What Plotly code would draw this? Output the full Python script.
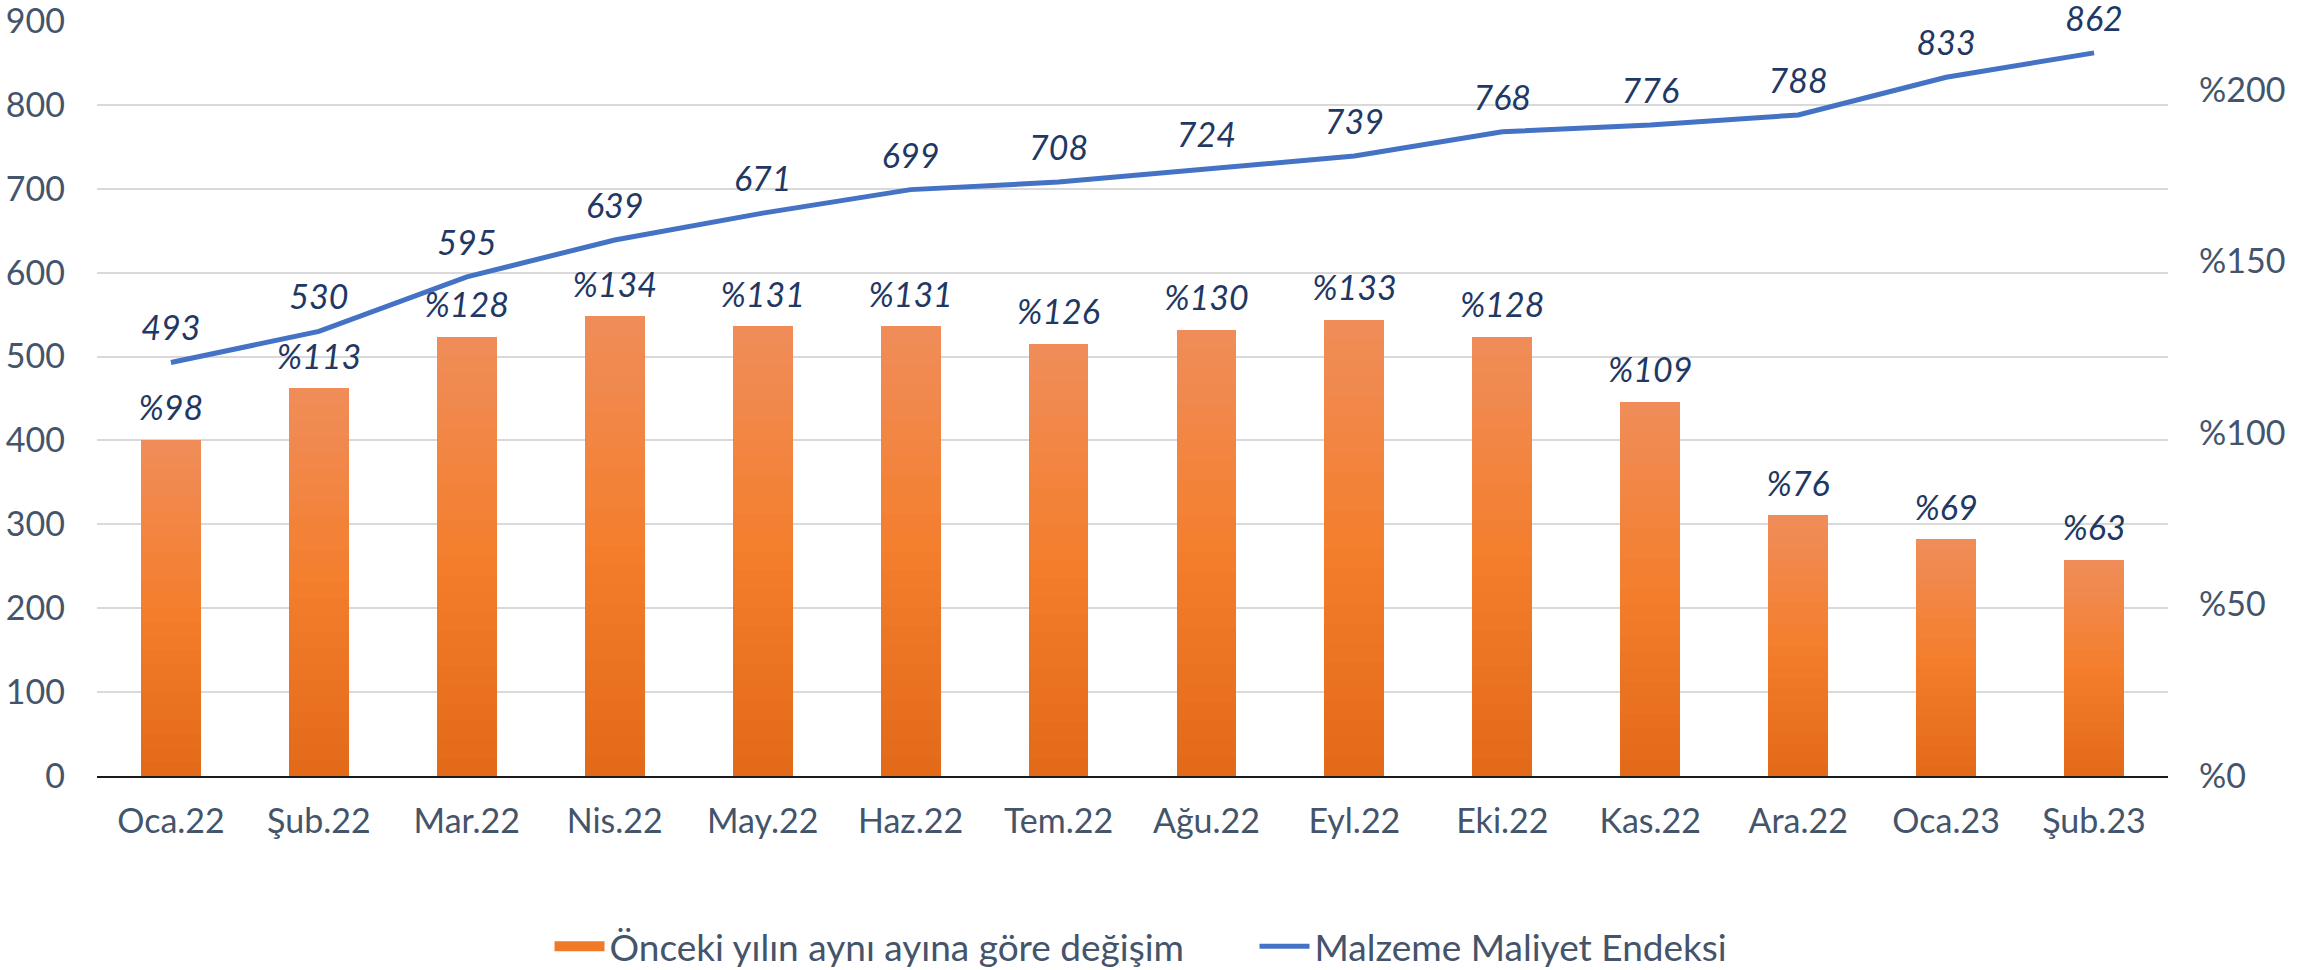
import plotly.graph_objects as go

categories = ["Oca.22", "Şub.22", "Mar.22", "Nis.22", "May.22", "Haz.22", "Tem.22",
              "Ağu.22", "Eyl.22", "Eki.22", "Kas.22", "Ara.22", "Oca.23", "Şub.23"]
index_values = [493, 530, 595, 639, 671, 699, 708, 724, 739, 768, 776, 788, 833, 862]
yoy_change = [98, 113, 128, 134, 131, 131, 126, 130, 133, 128, 109, 76, 69, 63]
right_ticks = [0, 50, 100, 150, 200]

bar_name = "Önceki yılın aynı ayına göre değişim"
line_name = "Malzeme Maliyet Endeksi"

FONT = "Lato"
TICK_COLOR = "#44546A"
LABEL_COLOR = "#1F3864"

# gradient stops bottom -> top
stops = [(0.0, (226, 105, 24)), (0.5, (244, 126, 44)), (1.0, (239, 141, 90))]


def grad(t):
    for (t0, c0), (t1, c1) in zip(stops[:-1], stops[1:]):
        if t0 <= t <= t1:
            f = (t - t0) / (t1 - t0)
            return "rgb(%d,%d,%d)" % tuple(round(a + (b - a) * f) for a, b in zip(c0, c1))
    return "rgb(%d,%d,%d)" % stops[-1][1]


N = 24
fig = go.Figure()
# legend entry for the bars (wide rectangle symbol like the reference)
fig.add_trace(go.Scatter(
    x=[None], y=[None], mode="lines", name=bar_name, legendgroup="bar",
    line=dict(color=grad(0.4), width=20), hoverinfo="skip",
))
for i in range(N):
    fig.add_trace(go.Bar(
        x=categories, y=[v / N for v in yoy_change], yaxis="y2",
        marker=dict(color=grad((i + 0.5) / N), line=dict(width=0)),
        name=bar_name, legendgroup="bar", showlegend=False,
        hoverinfo="skip",
    ))

# bar labels
fig.add_trace(go.Scatter(
    x=categories, y=yoy_change, yaxis="y2", mode="markers+text",
    text=["%" + str(v) for v in yoy_change], textposition="top center",
    marker=dict(size=16, opacity=0), showlegend=False, hoverinfo="skip",
    cliponaxis=False,
    textfont=dict(family=FONT, size=34, color=LABEL_COLOR, style="italic"),
))

fig.add_trace(go.Scatter(
    x=categories, y=index_values, yaxis="y", mode="lines",
    line=dict(color="#4472C4", width=5), name=line_name,
))
fig.add_trace(go.Scatter(
    x=categories, y=index_values, yaxis="y", mode="markers+text",
    text=[str(v) for v in index_values], textposition="top center",
    marker=dict(size=20, opacity=0), showlegend=False, hoverinfo="skip",
    cliponaxis=False,
    textfont=dict(family=FONT, size=34, color=LABEL_COLOR, style="italic"),
))

fig.update_layout(
    width=2310, height=970,
    paper_bgcolor="white", plot_bgcolor="white",
    margin=dict(l=97, r=142, t=21, b=194, autoexpand=False),
    barmode="stack", bargap=0.595,
    font=dict(family=FONT, size=34, color=TICK_COLOR),
    showlegend=True,
    legend=dict(orientation="h", x=0.2185, xanchor="left", y=-0.226, yanchor="middle",
                font=dict(family=FONT, size=37, color=TICK_COLOR), itemwidth=50,
                entrywidth=640, traceorder="normal"),
    xaxis=dict(type="category", categoryorder="array", categoryarray=categories,
               range=[-0.5, len(categories) - 0.5], showgrid=False, showline=True,
               linecolor="#1a1a1a", linewidth=2, automargin=False,
               ticks="", ticklabelstandoff=14, tickfont=dict(size=34, color=TICK_COLOR)),
    yaxis=dict(range=[0, 900], dtick=100, showgrid=True, gridcolor="#D9D9D9", gridwidth=2,
               zeroline=False, ticks="", ticklabelstandoff=31, automargin=False,
               ticklabeloverflow="allow",
               tickfont=dict(size=34, color=TICK_COLOR)),
    yaxis2=dict(range=[0, 220], tickvals=right_ticks,
                ticktext=["%" + str(v) for v in right_ticks],
                overlaying="y", side="right", showgrid=False, zeroline=False,
                automargin=False, ticklabeloverflow="allow",
                ticks="", ticklabelstandoff=30, tickfont=dict(size=34, color=TICK_COLOR)),
)

fig.write_html("out.html", config={"displayModeBar": False},
               post_script="document.body.style.margin='0';document.body.style.overflow='hidden';")
